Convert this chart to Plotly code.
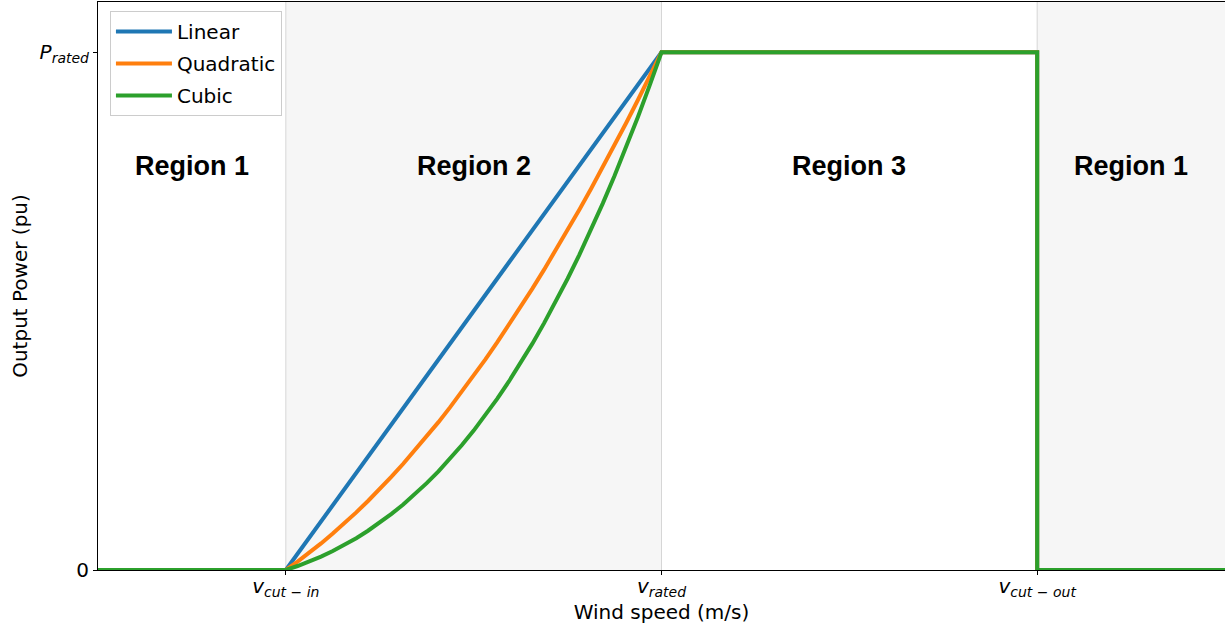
import plotly.graph_objects as go

# ---- data ----
wind_speed = [0.0, 4.0, 4.25, 4.5, 4.75, 5.0, 5.25, 5.5, 5.75, 6.0, 6.25, 6.5, 6.75,
              7.0, 7.25, 7.5, 7.75, 8.0, 8.25, 8.5, 8.75, 9.0, 9.25, 9.5, 9.75,
              10.0, 10.25, 10.5, 10.75, 11.0, 11.25, 11.5, 11.75, 12.0,
              20.0, 20.0, 24.0]
power_linear = [0, 0, 0.0313, 0.0625, 0.0938, 0.125, 0.1563, 0.1875, 0.2188, 0.25,
                0.2813, 0.3125, 0.3438, 0.375, 0.4063, 0.4375, 0.4688, 0.5,
                0.5313, 0.5625, 0.5938, 0.625, 0.6563, 0.6875, 0.7188, 0.75,
                0.7813, 0.8125, 0.8438, 0.875, 0.9063, 0.9375, 0.9688, 1,
                1, 0, 0]
power_quadratic = [0, 0, 0.0161, 0.0332, 0.0513, 0.0703, 0.0903, 0.1113, 0.1333,
                   0.1563, 0.1802, 0.2051, 0.2310, 0.2578, 0.2856, 0.3145, 0.3442,
                   0.375, 0.4067, 0.4395, 0.4731, 0.5078, 0.5435, 0.5801, 0.6177,
                   0.6563, 0.6958, 0.7363, 0.7778, 0.8203, 0.8638, 0.9082, 0.9536, 1,
                   1, 0, 0]
power_cubic = [0, 0, 0.0077, 0.0163, 0.0259, 0.0367, 0.0485, 0.0615, 0.0758,
               0.0913, 0.1083, 0.1266, 0.1464, 0.1677, 0.1906, 0.2151, 0.2413,
               0.2692, 0.2990, 0.3306, 0.3641, 0.3996, 0.4372, 0.4768, 0.5185,
               0.5625, 0.6087, 0.6572, 0.7081, 0.7614, 0.8172, 0.8755, 0.9364, 1,
               1, 0, 0]
series_names = ["Linear", "Quadratic", "Cubic"]
series_colors = ["#1f77b4", "#ff7f0e", "#2ca02c"]

x_tick_vals = [4, 12, 20]
x_tick_text = ["<i>v<sub>cut − in</sub></i>", "<i>v<sub>rated</sub></i>",
               "<i>v<sub>cut − out</sub></i>"]
y_tick_vals = [0, 1]
y_tick_text = ["0", "<i>P<sub>rated</sub></i>"]

region_bounds = [0, 4, 12, 20, 24]
region_labels = ["Region 1", "Region 2", "Region 3", "Region 1"]
region_shaded = [False, True, False, True]
region_label_y = 0.78

FONT = "DejaVu Sans"

fig = go.Figure()
for name, color, ys in zip(series_names, series_colors,
                           [power_linear, power_quadratic, power_cubic]):
    fig.add_trace(go.Scatter(x=wind_speed, y=ys, mode="lines", name=name,
                             legendgroup=name,
                             line=dict(color=color, width=4)))

shapes = []
annotations = []
for i, lab in enumerate(region_labels):
    x0, x1 = region_bounds[i], region_bounds[i + 1]
    if region_shaded[i]:
        shapes.append(dict(type="rect", xref="x", yref="paper", x0=x0, x1=x1,
                           y0=0, y1=1, fillcolor="#f6f6f6", line=dict(width=0),
                           layer="below"))
    annotations.append(dict(x=(x0 + x1) / 2, y=region_label_y, xref="x", yref="y",
                            text="<b>" + lab + "</b>", showarrow=False,
                            font=dict(family="Liberation Sans", size=27, color="black")))
for xv in x_tick_vals:
    shapes.append(dict(type="line", xref="x", yref="paper", x0=xv, x1=xv, y0=0, y1=1,
                       line=dict(color="#d6d6d6", width=1), layer="below"))

fig.update_layout(
    width=1225, height=628,
    margin=dict(l=98, r=0, t=2, b=58),
    paper_bgcolor="white", plot_bgcolor="white",
    font=dict(family=FONT, size=20, color="black"),
    shapes=shapes, annotations=annotations,
    showlegend=True,
    legend=dict(x=0.0106, y=0.984, xanchor="left", yanchor="top",
                bgcolor="rgba(255,255,255,0.85)", bordercolor="#cccccc", borderwidth=1,
                font=dict(family=FONT, size=20), itemwidth=56,
                tracegroupgap=3),
    xaxis=dict(range=[0, 24], tickmode="array", tickvals=x_tick_vals,
               ticktext=x_tick_text, showgrid=False, zeroline=False,
               showline=True, linecolor="black", linewidth=1, mirror=True,
               ticks="outside", ticklen=4, tickcolor="black",
               ticklabelstandoff=-6,
               title=dict(text="Wind speed (m/s)", font=dict(size=20), standoff=4),
               tickfont=dict(size=20)),
    yaxis=dict(range=[0, 1.097], tickmode="array", tickvals=y_tick_vals,
               ticktext=y_tick_text, showgrid=False, zeroline=False,
               showline=True, linecolor="black", linewidth=1,
               ticks="outside", ticklen=4, tickcolor="black",
               title=dict(text="Output Power (pu)", font=dict(size=20), standoff=6),
               tickfont=dict(size=20)),
)

fig.write_html("out.html", config={"displayModeBar": False},
               post_script="document.body.style.margin='0';")
